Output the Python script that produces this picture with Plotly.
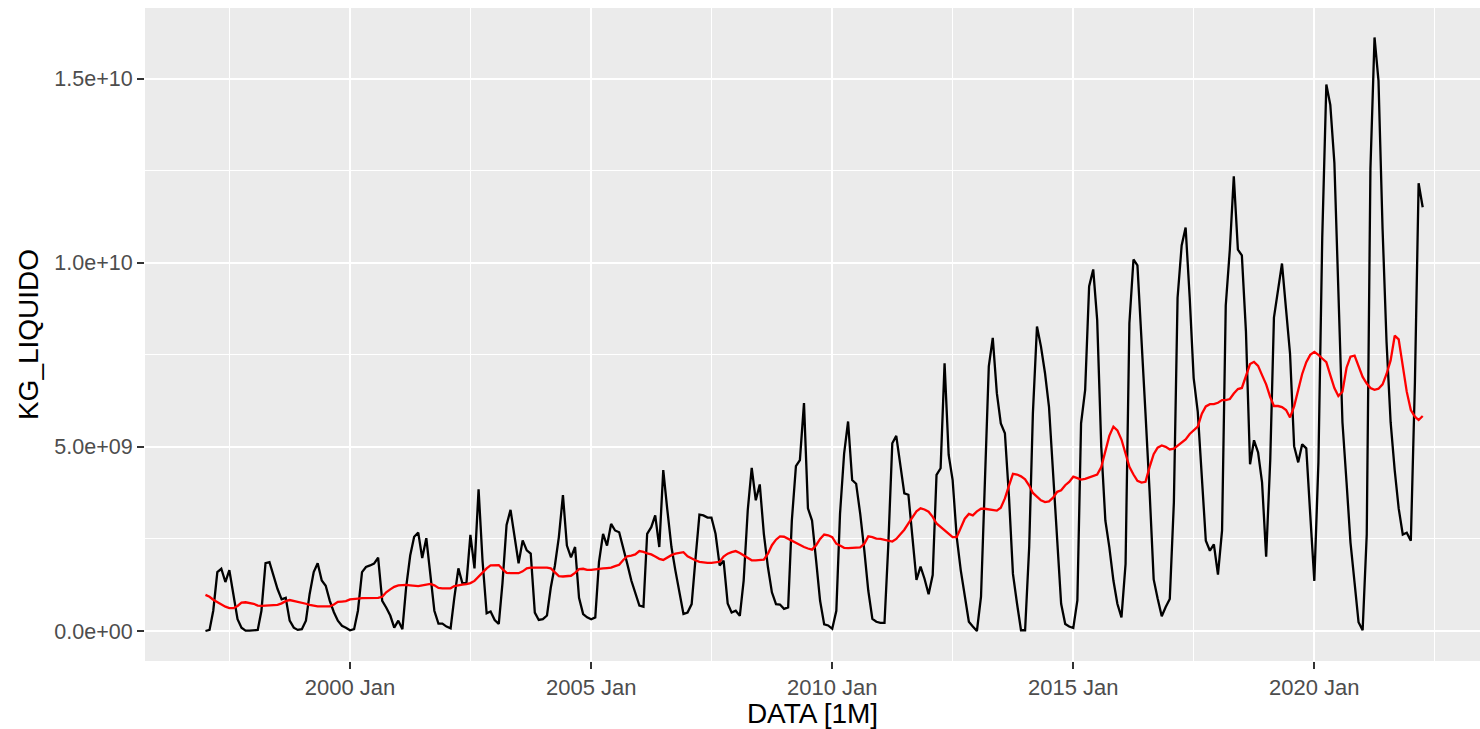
import pandas as pd
import plotly.graph_objects as go

START_MONTH = "1997-01-01"

# KG_LIQUIDO, monthly, in units of 1e9 kg (1997 Jan .. 2022 Apr)
kg_liquido_bn = [
    0.00, 0.03, 0.55, 1.60, 1.69, 1.33, 1.65, 1.00, 0.32, 0.09, 0.01, 0.01,   # 1997
    0.01, 0.03, 0.55, 1.84, 1.87, 1.46, 1.14, 0.86, 0.90, 0.28, 0.09, 0.03,   # 1998
    0.05, 0.28, 1.00, 1.60, 1.84, 1.37, 1.23, 0.82, 0.51, 0.28, 0.14, 0.09,   # 1999
    0.02, 0.05, 0.55, 1.60, 1.74, 1.78, 1.83, 1.99, 0.82, 0.64, 0.42, 0.09,   # 2000
    0.28, 0.05, 1.18, 2.05, 2.56, 2.67, 1.98, 2.52, 1.45, 0.55, 0.20, 0.20,   # 2001
    0.12, 0.07, 0.90, 1.70, 1.30, 1.30, 2.61, 1.70, 3.85, 1.90, 0.48, 0.53,   # 2002
    0.30, 0.19, 1.30, 2.88, 3.29, 2.55, 1.84, 2.46, 2.19, 2.10, 0.50, 0.30,   # 2003
    0.32, 0.42, 1.18, 1.78, 2.55, 3.69, 2.32, 2.00, 2.28, 0.90, 0.46, 0.37,   # 2004
    0.32, 0.37, 1.87, 2.64, 2.32, 2.91, 2.73, 2.68, 2.28, 1.83, 1.37, 1.00,   # 2005
    0.69, 0.66, 2.64, 2.82, 3.14, 2.28, 4.37, 3.28, 2.28, 1.64, 1.05, 0.46,   # 2006
    0.50, 0.73, 1.91, 3.16, 3.14, 3.08, 3.08, 2.64, 1.78, 1.91, 0.75, 0.50,   # 2007
    0.55, 0.41, 1.37, 3.28, 4.43, 3.55, 3.98, 2.64, 1.73, 1.05, 0.73, 0.72,   # 2008
    0.60, 0.64, 3.00, 4.48, 4.64, 6.19, 3.33, 3.00, 1.91, 0.82, 0.18, 0.15,   # 2009
    0.06, 0.55, 3.18, 4.82, 5.69, 4.10, 4.00, 3.18, 2.19, 1.10, 0.33, 0.25,   # 2010
    0.22, 0.22, 2.28, 5.10, 5.30, 4.55, 3.74, 3.70, 2.60, 1.39, 1.75, 1.42,   # 2011
    1.00, 1.52, 4.24, 4.42, 7.27, 4.78, 4.10, 2.55, 1.64, 0.92, 0.25, 0.12,   # 2012
    0.00, 0.93, 4.10, 7.19, 7.96, 6.46, 5.64, 5.37, 3.64, 1.55, 0.74, 0.02,   # 2013
    0.02, 2.28, 5.91, 8.27, 7.73, 7.00, 6.09, 4.28, 2.37, 0.74, 0.19, 0.12,   # 2014
    0.08, 0.83, 5.64, 6.55, 9.36, 9.82, 8.45, 5.00, 3.00, 2.28, 1.37, 0.74,   # 2015
    0.37, 1.82, 8.36, 10.09, 9.93, 8.00, 5.91, 3.80, 1.40, 0.88, 0.40, 0.65,  # 2016
    0.87, 3.49, 9.05, 10.47, 10.96, 9.05, 6.87, 5.95, 4.15, 2.45, 2.18, 2.35, # 2017
    1.53, 2.73, 8.84, 10.36, 12.35, 10.36, 10.20, 8.13, 4.53, 5.18, 4.85, 4.04, # 2018
    2.02, 4.64, 8.51, 9.27, 9.98, 8.73, 7.53, 5.02, 4.58, 5.07, 4.96, 3.16,   # 2019
    1.36, 4.58, 10.69, 14.84, 14.29, 12.71, 9.38, 5.67, 4.04, 2.40, 1.31, 0.24, # 2020
    0.02, 2.62, 12.55, 16.12, 14.95, 10.91, 7.85, 5.67, 4.36, 3.33, 2.62, 2.67, # 2021
    2.45, 6.76, 12.16, 11.51,                                                 # 2022
]

# trend line (red), same months, units of 1e9 kg
trend_bn = [
    0.98, 0.93, 0.85, 0.78, 0.72, 0.66, 0.62, 0.62, 0.68, 0.77, 0.78, 0.76,
    0.74, 0.69, 0.68, 0.69, 0.70, 0.71, 0.71, 0.75, 0.81, 0.84, 0.82, 0.79,
    0.76, 0.74, 0.71, 0.68, 0.67, 0.67, 0.67, 0.67, 0.72, 0.79, 0.80, 0.81,
    0.86, 0.88, 0.88, 0.89, 0.89, 0.89, 0.90, 0.90, 0.93, 1.05, 1.13, 1.20,
    1.24, 1.25, 1.25, 1.24, 1.23, 1.22, 1.24, 1.27, 1.28, 1.24, 1.17, 1.16,
    1.15, 1.16, 1.22, 1.25, 1.26, 1.27, 1.30, 1.36, 1.48, 1.60, 1.70, 1.78,
    1.79, 1.79, 1.68, 1.58, 1.57, 1.57, 1.57, 1.62, 1.70, 1.72, 1.72, 1.73,
    1.73, 1.72, 1.70, 1.58, 1.49, 1.48, 1.48, 1.50, 1.58, 1.68, 1.69, 1.66,
    1.66, 1.68, 1.69, 1.70, 1.71, 1.72, 1.76, 1.80, 1.93, 2.03, 2.05, 2.08,
    2.17, 2.15, 2.11, 2.08, 2.02, 1.96, 1.93, 2.00, 2.06, 2.10, 2.12, 2.14,
    2.03, 1.97, 1.92, 1.88, 1.86, 1.85, 1.85, 1.86, 1.88, 2.02, 2.10, 2.14,
    2.17, 2.12, 2.05, 1.98, 1.92, 1.92, 1.93, 1.94, 2.10, 2.33, 2.48, 2.57,
    2.56, 2.50, 2.44, 2.38, 2.33, 2.28, 2.24, 2.21, 2.33, 2.50, 2.62, 2.60,
    2.55, 2.37, 2.32, 2.26, 2.25, 2.25, 2.26, 2.27, 2.37, 2.57, 2.55, 2.51,
    2.50, 2.48, 2.45, 2.43, 2.50, 2.62, 2.75, 2.92, 3.10, 3.25, 3.33, 3.30,
    3.24, 3.10, 2.92, 2.82, 2.72, 2.62, 2.55, 2.55, 2.80, 3.05, 3.18, 3.14,
    3.25, 3.32, 3.32, 3.30, 3.28, 3.27, 3.35, 3.60, 3.95, 4.27, 4.25, 4.20,
    4.12, 3.95, 3.75, 3.64, 3.55, 3.50, 3.52, 3.62, 3.78, 3.82, 3.96, 4.05,
    4.19, 4.15, 4.11, 4.13, 4.17, 4.20, 4.25, 4.45, 4.90, 5.30, 5.55, 5.45,
    5.20, 4.85, 4.46, 4.25, 4.08, 4.03, 4.05, 4.45, 4.80, 4.98, 5.04, 5.00,
    4.93, 4.95, 5.03, 5.10, 5.20, 5.35, 5.45, 5.55, 5.90, 6.10, 6.16, 6.16,
    6.20, 6.27, 6.27, 6.30, 6.45, 6.57, 6.60, 6.95, 7.25, 7.31, 7.20, 6.95,
    6.70, 6.35, 6.11, 6.11, 6.08, 6.00, 5.80, 6.10, 6.55, 6.98, 7.30, 7.50,
    7.58, 7.50, 7.40, 7.30, 6.95, 6.60, 6.38, 6.50, 7.15, 7.45, 7.48, 7.20,
    6.90, 6.72, 6.60, 6.55, 6.58, 6.70, 6.98, 7.35, 8.02, 7.92, 7.20, 6.50,
    6.00, 5.82, 5.73, 5.84,
]

y_tick_values = [0, 5e9, 1e10, 1.5e10]
y_tick_labels = ["0.0e+00", "5.0e+09", "1.0e+10", "1.5e+10"]
x_tick_dates = ["2000-01-01", "2005-01-01", "2010-01-01", "2015-01-01", "2020-01-01"]
x_tick_labels = ["2000 Jan", "2005 Jan", "2010 Jan", "2015 Jan", "2020 Jan"]

SCALE = 1e9
months = pd.date_range(START_MONTH, periods=len(kg_liquido_bn), freq="MS")
kg = [v * SCALE for v in kg_liquido_bn]
trend = [v * SCALE for v in trend_bn]

FONT = "Liberation Sans, Arial, Helvetica, sans-serif"

fig = go.Figure()
fig.add_trace(go.Scatter(x=months, y=kg, mode="lines",
                         line=dict(color="black", width=2.3), showlegend=False))
fig.add_trace(go.Scatter(x=months, y=trend[:len(months)], mode="lines",
                         line=dict(color="#FF0000", width=2.3), showlegend=False))

fig.update_layout(
    width=1480, height=729,
    margin=dict(l=145, r=0, t=8, b=68),
    paper_bgcolor="white",
    plot_bgcolor="#EBEBEB",
    font=dict(family=FONT, color="#4D4D4D"),
    xaxis=dict(
        type="date",
        range=["1995-10-01", "2023-06-09"],
        tickvals=x_tick_dates, ticktext=x_tick_labels,
        showgrid=True, gridcolor="white", gridwidth=2.1,
        minor=dict(dtick="M30", tick0="2000-01-01", showgrid=True,
                   gridcolor="white", gridwidth=1.1, ticks=""),
        ticks="outside", ticklen=7, tickwidth=2, tickcolor="#333333",
        tickfont=dict(size=22, color="#4D4D4D", family=FONT),
        zeroline=False, showline=False,
        title=dict(text="DATA [1M]", font=dict(size=28, color="black", family=FONT),
                   standoff=8),
    ),
    yaxis=dict(
        range=[-0.815e9, 16.92e9],
        tickvals=y_tick_values, ticktext=y_tick_labels,
        showgrid=True, gridcolor="white", gridwidth=2.1,
        minor=dict(dtick=2.5e9, tick0=0, showgrid=True,
                   gridcolor="white", gridwidth=1.1, ticks=""),
        ticks="outside", ticklen=7, tickwidth=2, tickcolor="#333333",
        tickfont=dict(size=21.5, color="#4D4D4D", family=FONT),
        zeroline=False, showline=False,
        title=dict(text="KG_LIQUIDO", font=dict(size=28, color="black", family=FONT),
                   standoff=7),
    ),
)

fig.write_html("out.html")
